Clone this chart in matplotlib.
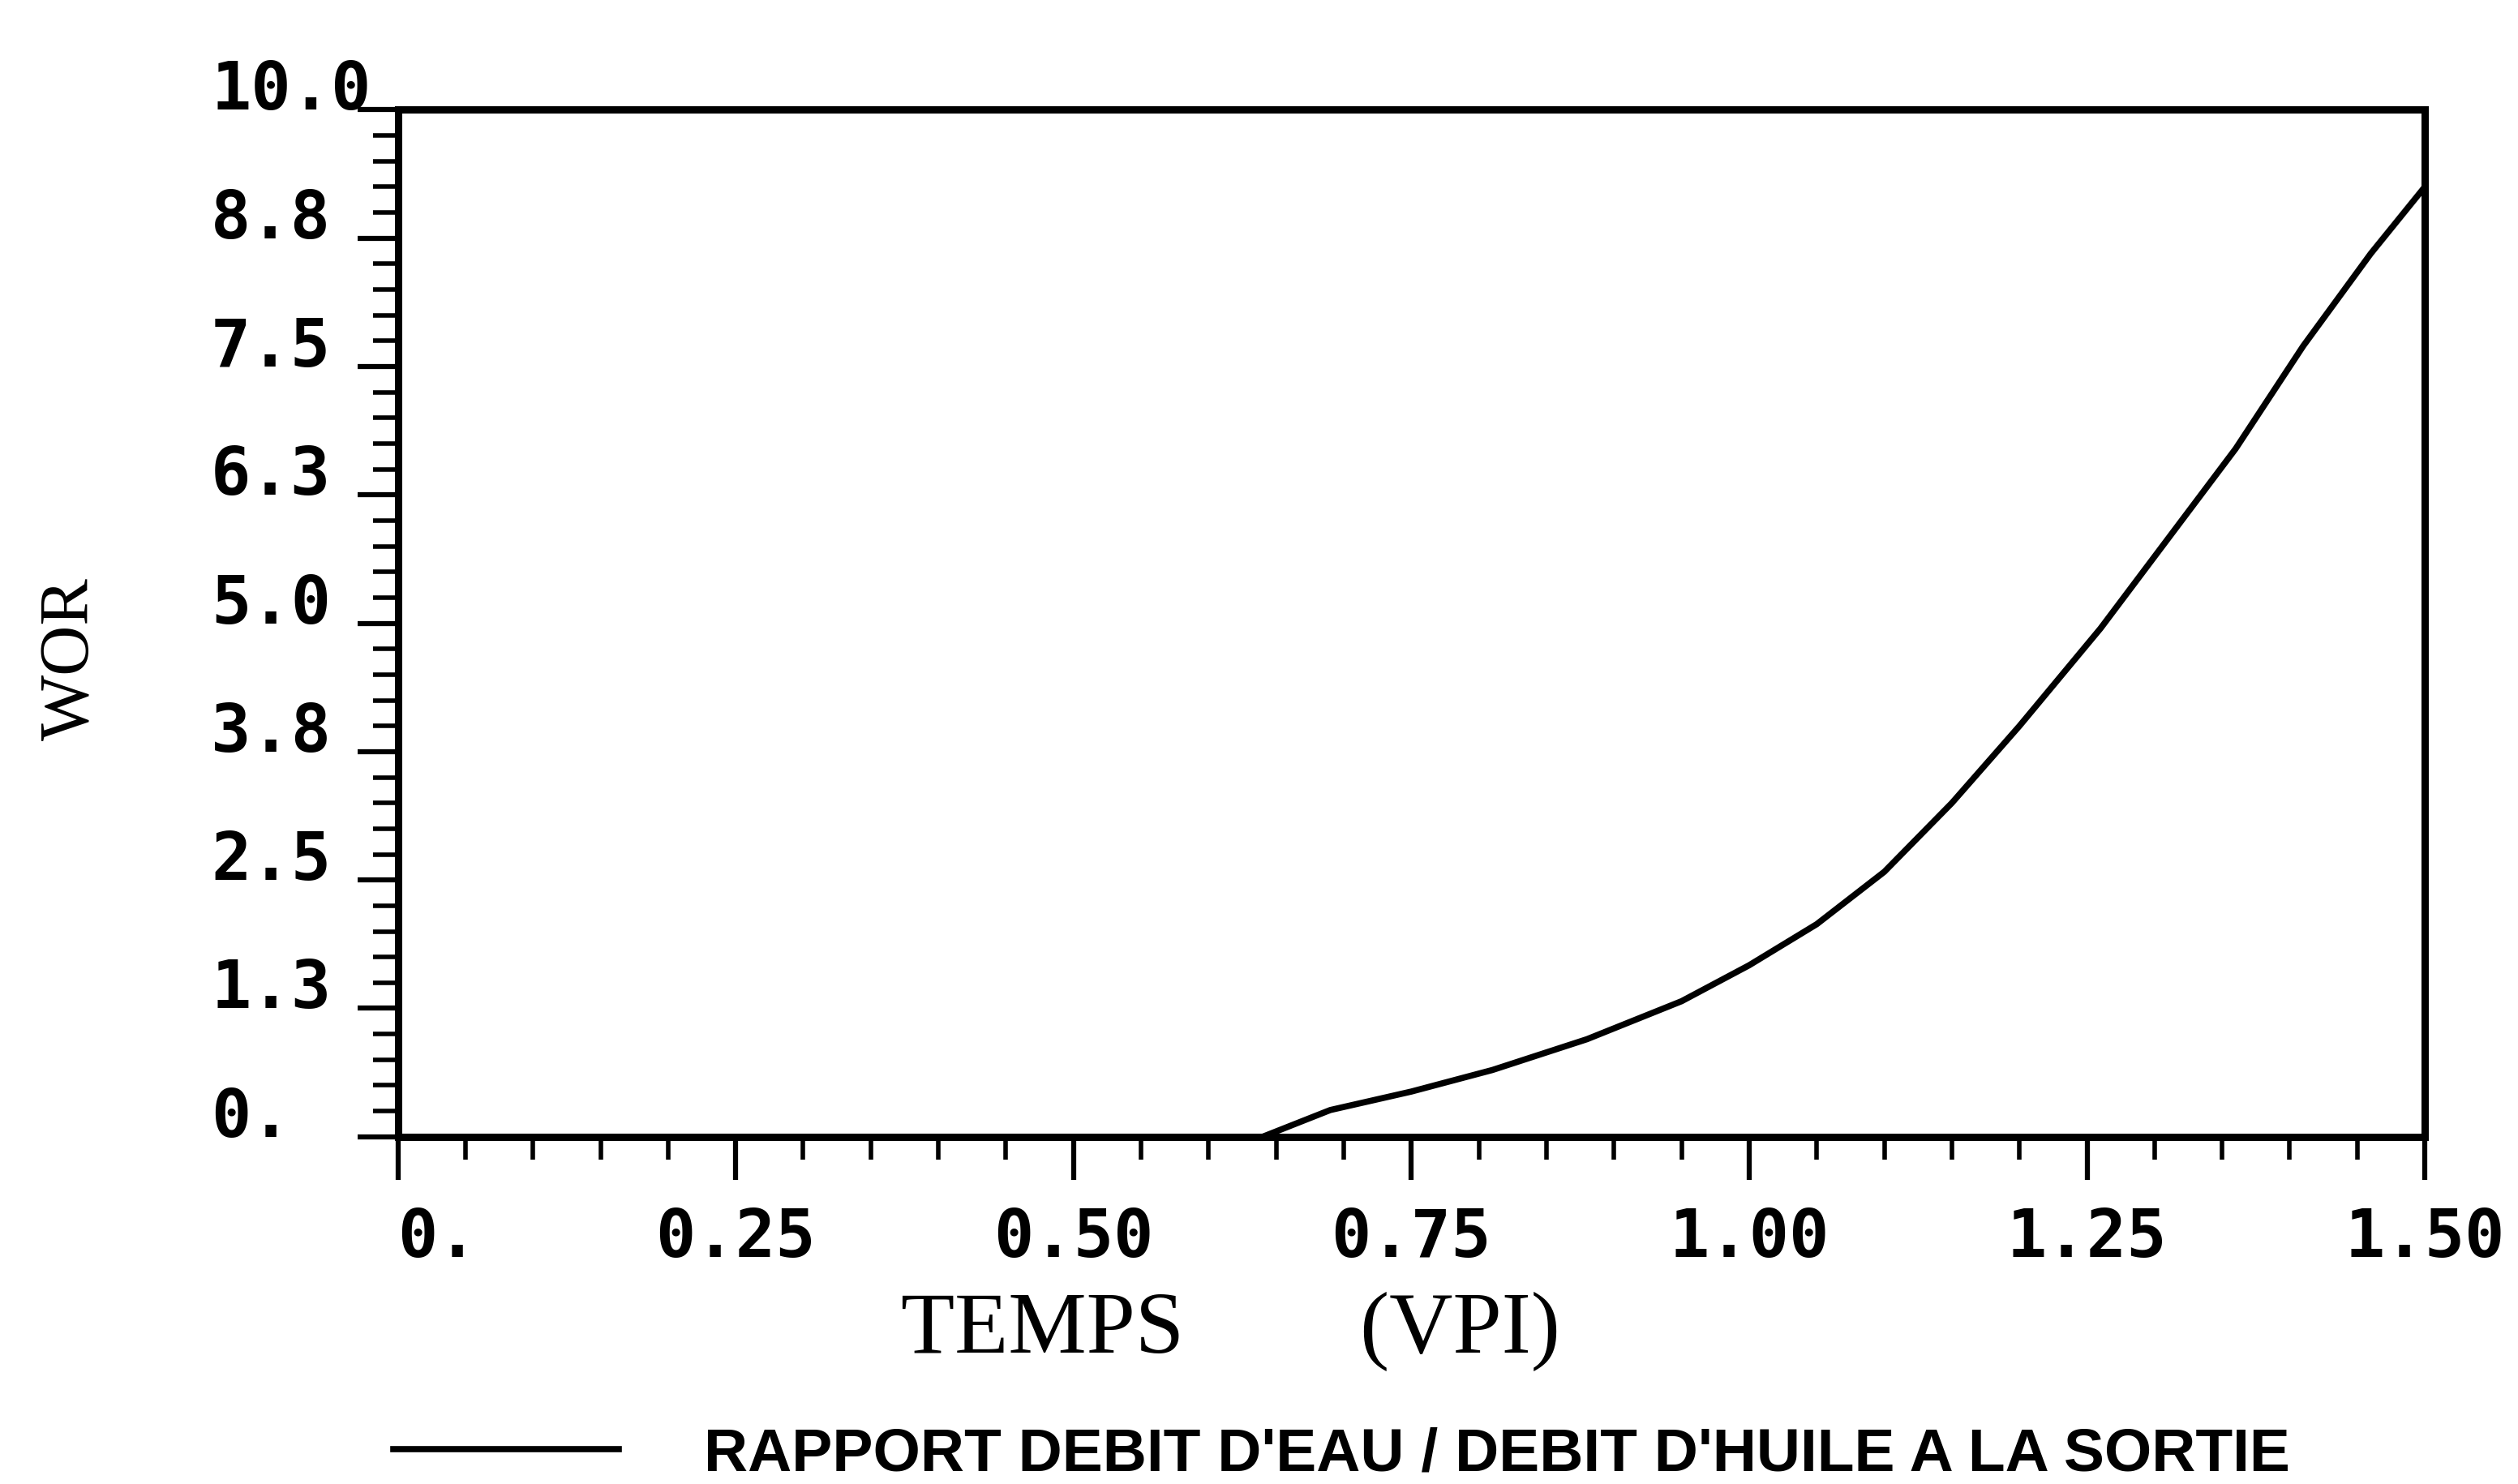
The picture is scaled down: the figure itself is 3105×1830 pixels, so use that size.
import matplotlib.pyplot as plt
import numpy as np
from matplotlib.ticker import MultipleLocator

# Temps (VPI) et WOR
temps = [0.0, 0.25, 0.50, 0.60, 0.64, 0.69, 0.75, 0.81, 0.88, 0.95, 1.00,
         1.05, 1.10, 1.15, 1.20, 1.26, 1.30, 1.36, 1.41, 1.46, 1.50]
wor = [0.0, 0.0, 0.0, 0.0, 0.0, 0.26, 0.44, 0.65, 0.95, 1.32, 1.67,
       2.07, 2.58, 3.25, 4.0, 4.95, 5.65, 6.7, 7.7, 8.6, 9.25]

x_ticks = [0.0, 0.25, 0.50, 0.75, 1.00, 1.25, 1.50]
x_labels = ["0.", "0.25", "0.50", "0.75", "1.00", "1.25", "1.50"]
y_ticks = [0.0, 1.25, 2.5, 3.75, 5.0, 6.25, 7.5, 8.75, 10.0]
y_labels = ["0.", "1.3", "2.5", "3.8", "5.0", "6.3", "7.5", "8.8", "10.0"]

legend_label = "RAPPORT DEBIT D'EAU / DEBIT D'HUILE A LA SORTIE"

tick_font = {'family': 'DejaVu Sans Mono', 'weight': 'bold', 'size': 59}
serif = 'Liberation Serif'

fig = plt.figure(figsize=(31.05, 18.30), dpi=100)
ax = fig.add_axes([0.158, 0.234, 0.805, 0.692])

ax.plot(temps, wor, color='black', lw=5.5, label=legend_label)

ax.set_xlim(0, 1.5)
ax.set_ylim(0, 10)

ax.set_xticks(x_ticks)
ax.set_xticklabels(x_labels, fontdict=tick_font)
ax.set_yticks(y_ticks)
ax.set_yticklabels(y_labels, fontdict=tick_font)
ax.xaxis.set_minor_locator(MultipleLocator(0.05))
ax.yaxis.set_minor_locator(MultipleLocator(0.25))

ax.tick_params(axis='x', which='major', direction='out', length=38, width=4.5, pad=24)
ax.tick_params(axis='x', which='minor', direction='out', length=20, width=4)
ax.tick_params(axis='y', which='major', direction='out', length=36, width=4.5, pad=130)
ax.tick_params(axis='y', which='minor', direction='out', length=22, width=4)

# labels Y alignes a gauche, poses sur le trait
for lab in ax.get_yticklabels():
    lab.set_horizontalalignment('left')
    lab.set_verticalalignment('baseline')
ax.get_xticklabels()[0].set_horizontalalignment('left')

for s in ax.spines.values():
    s.set_linewidth(6.5)

ax.set_xlabel("TEMPS        (VPI)", fontfamily=serif, fontsize=78, va='center')
ax.xaxis.set_label_coords(0.411, -0.19)
ax.set_ylabel("WOR", fontfamily=serif, fontsize=62, va='center')
ax.yaxis.set_label_coords(-0.161, 0.465)

fig.legend(loc='center left', bbox_to_anchor=(485 / 3105, 1 - 1794 / 1830),
           frameon=False, borderpad=0, borderaxespad=0,
           handlelength=3.7, handletextpad=1.4,
           prop={'family': 'Liberation Sans', 'weight': 'bold', 'size': 54})

plt.savefig("out.png", dpi=100, facecolor='white')
